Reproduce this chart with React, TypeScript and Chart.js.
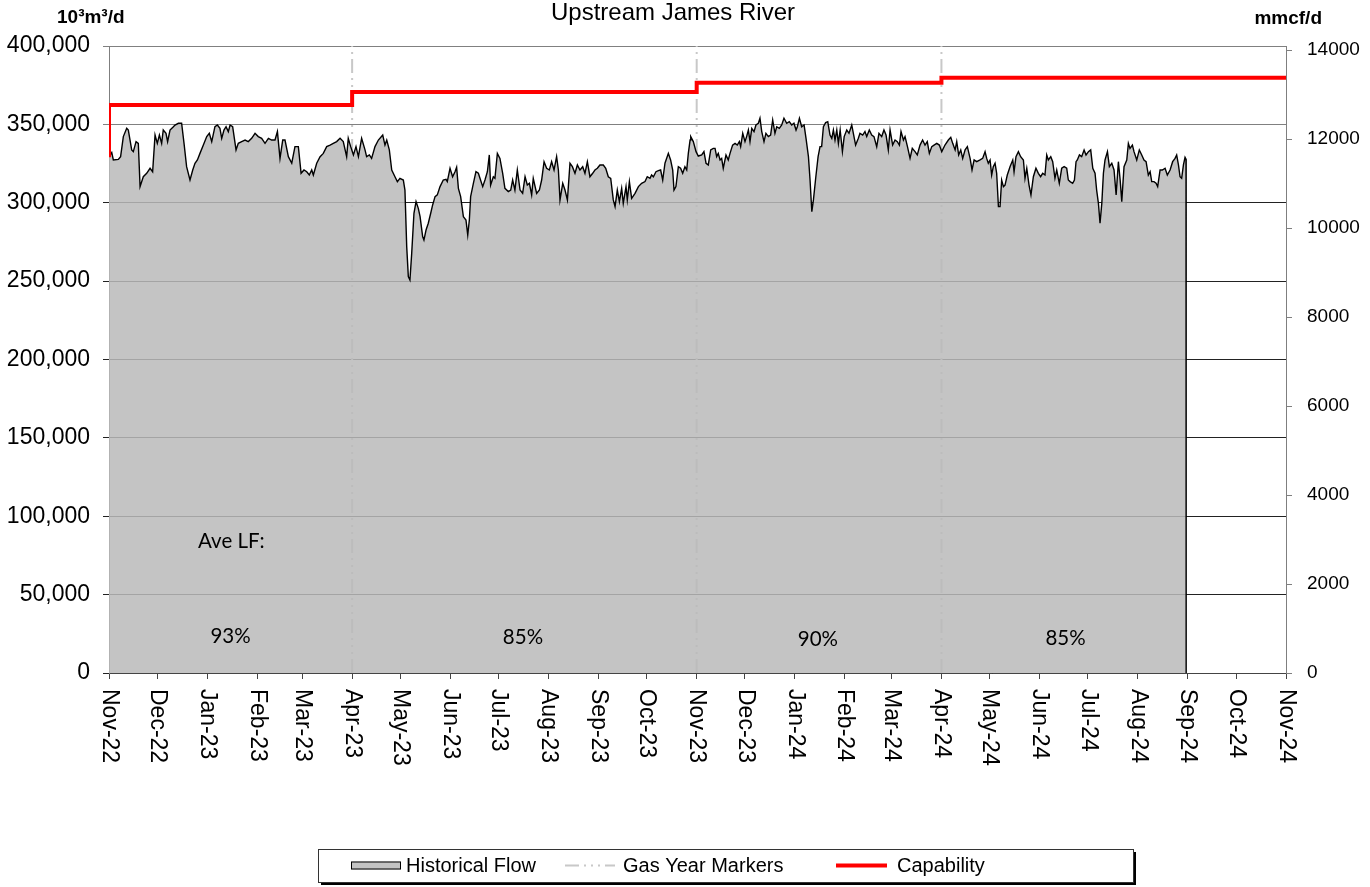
import { useEffect, useRef } from 'react';
import { Chart, registerables } from 'chart.js';

Chart.register(...registerables);

const SANS = "'Liberation Sans', Arial, sans-serif";
const NOTE_FONT = "Lato, 'Open Sans', sans-serif";

// ---- text ----
const chartTitle = 'Upstream James River';
const leftUnit = '10³m³/d';
const rightUnit = 'mmcf/d';
const legendLabels = ['Historical Flow', 'Gas Year Markers', 'Capability'];
const loadFactorHeader = 'Ave LF:';
const loadFactorLabels = ['93%', '85%', '90%', '85%'];

// ---- x axis: days since 1 Nov 2022 ----
const monthTickDays = [0, 30, 61, 92, 120, 151, 181, 212, 242, 273, 304, 334, 365, 395, 426, 457, 486, 517, 547, 578, 608, 639, 670, 700, 731];
const monthTickLabels = ['Nov-22', 'Dec-22', 'Jan-23', 'Feb-23', 'Mar-23', 'Apr-23', 'May-23', 'Jun-23', 'Jul-23', 'Aug-23', 'Sep-23', 'Oct-23', 'Nov-23', 'Dec-23', 'Jan-24', 'Feb-24', 'Mar-24', 'Apr-24', 'May-24', 'Jun-24', 'Jul-24', 'Aug-24', 'Sep-24', 'Oct-24', 'Nov-24'];

// ---- y axes ----
const leftMin = 0;
const leftMax = 400000;
const leftStep = 50000;
const rightTickValues = [0, 2000, 4000, 6000, 8000, 10000, 12000, 14000];
const rightAxisMax = 14090;

// ---- series ----
const gasYearMarkerDays = [151, 365, 517];
const capabilityDays = [0, 0, 151, 365, 517, 731];
const capabilityValues = [329000, 362400, 370700, 376600, 379800, 379800];

// [day, 10³m³/d]
const historicalFlow: [number, number][] = [
  [0, 329400], [1.7, 332000], [2.7, 327300], [5.8, 327700], [7.2, 329400], [8.9, 342200], [11.0, 347500], [12.0, 346400], [14.1, 333700], [15.1, 332600],
  [16.8, 339000], [18.2, 337900], [19.3, 310300], [21.3, 316600], [23.4, 318800], [25.5, 322000], [27.1, 319800], [28.6, 343200], [30.0, 337900], [31.3, 343200],
  [32.7, 337900], [33.7, 346400], [35.4, 344300], [36.4, 339000], [37.9, 346400], [40.0, 348500], [41.0, 349600], [43.1, 350700], [45.1, 350700], [46.6, 337900],
  [48.2, 323000], [50.3, 314500], [52.0, 320900], [53.4, 325200], [54.9, 327300], [56.5, 331500], [58.6, 336800], [60.7, 342200], [62.3, 344300], [63.8, 339000],
  [65.8, 348500], [67.3, 349600], [68.9, 347500], [70.0, 341100], [71.4, 346400], [72.7, 348500], [74.1, 345400], [75.2, 349600], [76.8, 348500], [78.9, 333700],
  [80.3, 337900], [82.4, 339000], [84.5, 340000], [86.5, 339000], [88.6, 341100], [90.7, 344300], [92.7, 342200], [94.8, 341100], [96.9, 337900], [99.0, 341100],
  [101.0, 340000], [103.1, 340000], [104.6, 345400], [106.2, 328300], [107.9, 340000], [109.3, 340000], [111.4, 329400], [113.5, 325200], [115.5, 335800], [117.6, 335800],
  [119.3, 318800], [121.1, 320900], [122.8, 319800], [124.4, 317700], [125.9, 320900], [126.9, 317700], [129.0, 325200], [131.1, 329400], [133.1, 331500], [135.2, 335800],
  [137.3, 336800], [139.3, 337900], [141.4, 339000], [143.5, 341100], [145.5, 339000], [147.6, 329400], [148.6, 341100], [150.1, 335800], [151.8, 330500], [153.4, 335800],
  [154.9, 329400], [156.9, 341100], [159.0, 333700], [160.0, 329400], [161.7, 330500], [163.1, 328300], [165.2, 335800], [167.3, 340000], [170.0, 343200], [171.4, 336800],
  [172.5, 340000], [174.1, 333700], [175.6, 320900], [177.6, 316600], [179.1, 313500], [180.7, 315600],
  [182.8, 314500], [183.8, 308100], [184.9, 272000], [185.9, 252900], [186.9, 250700], [188.0, 267700], [189.4, 293300], [190.7, 300700], [192.1, 296400], [193.2, 291100],
  [194.8, 278400], [195.6, 276200], [196.9, 282600], [198.3, 286900], [199.8, 293300], [201.0, 298600], [202.5, 303900], [203.9, 305000], [205.6, 310300], [207.6, 314500],
  [209.3, 314900], [210.1, 313500], [211.8, 322000], [213.4, 316600], [214.9, 319800], [215.9, 322600], [217.0, 309200], [218.4, 303900], [220.1, 291100], [221.7, 289000],
  [222.8, 279400], [223.8, 289000], [224.6, 303900], [226.3, 312400], [227.9, 319800], [229.4, 318800], [230.4, 315600], [232.1, 310300], [233.5, 314500], [235.0, 319800],
  [236.2, 330500], [237.0, 311300], [238.7, 316600], [239.7, 315600], [241.2, 331500], [242.8, 328300], [244.5, 318800], [245.9, 309200], [248.0, 307100], [249.5, 308100],
  [250.7, 314500], [252.1, 308100], [253.6, 320900], [255.3, 308100], [256.9, 306000], [258.4, 316600], [259.8, 311300], [261.1, 312400], [262.5, 305000], [263.5, 315600],
  [265.6, 306000], [267.3, 308100], [268.7, 314500], [270.2, 326200], [271.8, 322000], [273.5, 320900], [274.9, 326200], [276.4, 320900], [278.0, 329400], [279.1, 320900],
  [280.1, 301800], [281.8, 312400], [283.2, 308100], [284.7, 301800], [286.3, 325200], [287.8, 323000], [289.4, 318800], [290.9, 324100], [292.5, 320900], [294.2, 323000],
  [295.6, 318800], [297.1, 326200], [298.7, 316600], [300.4, 318800], [301.8, 320900], [303.3, 322000], [304.9, 324100], [307.0, 324100], [308.5, 322000], [310.1, 316600],
  [311.6, 315600], [313.2, 301800], [314.3, 297500], [315.7, 308100], [317.0, 300700], [318.4, 309200], [319.4, 299600], [321.1, 310300], [321.9, 301800], [323.2, 313500],
  [324.6, 302800], [326.7, 306000], [328.8, 310300], [330.8, 312400], [332.9, 313500], [334.3, 316600], [336.0, 315600], [337.0, 317700], [338.1, 316600], [339.7, 319800],
  [341.2, 320500], [342.6, 320900], [343.9, 314500], [345.3, 325200], [347.4, 331500], [348.8, 327300], [350.1, 320900], [350.9, 308100], [352.1, 310300], [353.6, 323000],
  [355.0, 322000], [356.3, 318800], [357.7, 323000], [358.8, 320900], [359.8, 331500], [360.9, 340000],
  [361.3, 342200], [362.9, 339000], [364.6, 332600], [366.0, 329800], [368.1, 330500], [369.5, 332600], [370.8, 325200], [372.2, 324100], [373.7, 333700], [375.3, 334700],
  [376.4, 334700], [377.4, 329400], [378.4, 331500], [379.5, 327300], [380.5, 328300], [381.5, 322000], [383.2, 330500], [384.6, 327300], [385.7, 331500], [387.3, 336800],
  [388.8, 337900], [390.2, 336800], [391.5, 339000], [392.3, 335800], [393.6, 344300], [395.0, 339000], [396.0, 342200], [397.1, 346400], [398.1, 339000], [399.2, 347500],
  [400.6, 345400], [401.8, 349600], [403.3, 350700], [404.3, 353900], [405.4, 345400], [406.8, 339000], [408.0, 344300], [409.5, 342200], [410.9, 343200], [412.2, 352800],
  [413.6, 344300], [414.7, 348500], [416.3, 347500], [417.8, 349600], [419.2, 353900], [420.9, 350700], [422.5, 351700], [424.0, 349600], [425.4, 350700], [426.7, 346400],
  [427.5, 348500], [428.8, 353900], [430.2, 348500], [431.7, 349600], [432.9, 341100], [434.4, 329400], [435.4, 314500], [436.5, 294300], [437.5, 301800], [439.0, 316600],
  [440.4, 329400], [441.6, 335800], [442.6, 335800], [443.7, 348500], [445.1, 351100], [446.4, 351700], [447.8, 343200], [448.9, 341100], [449.9, 346400], [450.9, 340000],
  [452.0, 346400], [453.0, 337900], [454.1, 346400], [455.5, 332600], [456.6, 342200], [458.2, 346400], [459.6, 344300], [461.3, 349600], [462.3, 344300], [463.7, 336800],
  [465.4, 341100], [466.4, 344300], [468.1, 343200], [469.5, 345400], [470.6, 342200], [472.2, 346400], [473.7, 343200], [475.1, 342200], [476.8, 335800], [478.2, 344300],
  [479.9, 342200], [481.3, 346400], [482.6, 343200], [484.0, 333700], [485.1, 346400], [486.7, 336800], [488.2, 340000], [489.6, 339000], [490.9, 336800], [491.9, 345400],
  [493.4, 340000], [494.4, 342200], [495.9, 335800], [497.5, 328300], [498.9, 334700], [500.6, 332600], [502.0, 330500], [503.7, 336800], [505.3, 340000], [506.8, 336800],
  [508.2, 339000], [509.5, 331500], [511.0, 335800], [512.4, 336800], [514.1, 337900], [515.7, 336800], [517.2, 332600], [519.2, 336800], [521.3, 340000], [522.8, 341700],
  [524.0, 337900], [525.5, 333700], [526.5, 339000], [527.7, 330500], [529.0, 333700], [530.2, 328300], [531.7, 333700], [533.1, 335800], [534.8, 328300], [536.0, 320900],
  [537.3, 327300], [538.9, 326200], [541.0, 327300],
  [542.6, 328300], [544.1, 332600], [545.1, 328300], [546.1, 325200], [547.2, 327300], [548.2, 317700], [549.2, 323000], [550.3, 325200], [551.3, 318800], [552.4, 297500],
  [553.4, 297500], [554.4, 314500], [555.5, 310300], [556.5, 311300], [557.9, 317700], [559.6, 323000], [561.3, 327300], [562.1, 319800], [563.3, 329400], [564.8, 332600],
  [566.2, 329400], [567.9, 327300], [568.9, 315600], [570.0, 322000], [571.4, 311300], [572.6, 305000], [574.1, 316600], [575.7, 322000], [577.2, 318800], [578.6, 316600],
  [579.9, 318800], [581.3, 317700], [582.4, 330500], [583.4, 327300], [584.9, 329400], [586.1, 326200], [587.5, 315600], [588.6, 320900], [590.2, 312400], [591.7, 322000],
  [593.2, 323000], [594.8, 322000], [595.8, 314500], [596.9, 313500], [598.5, 312400], [599.6, 314500], [600.6, 326200], [601.4, 327300], [602.7, 330500], [604.1, 329400],
  [605.6, 333700], [606.8, 330500], [608.3, 332600], [609.7, 333700], [611.0, 322000], [612.4, 318800], [613.4, 308100], [614.5, 299600], [615.5, 286900], [616.6, 299600],
  [617.6, 318800], [618.6, 327300], [620.1, 332600], [621.3, 323000], [622.8, 325200], [624.2, 320900], [625.5, 305000], [626.9, 326200], [628.0, 314500], [629.0, 300700],
  [630.4, 323000], [632.1, 327300], [633.1, 337900], [634.1, 334700], [635.6, 336800], [636.6, 332600], [638.3, 327300], [639.9, 333700], [641.4, 330500], [642.8, 327300],
  [644.1, 326200], [645.5, 317700], [646.6, 319800], [647.6, 313500], [649.0, 313500], [650.3, 312400], [651.3, 310300], [652.8, 320900], [654.2, 320900], [655.9, 322000],
  [657.3, 317700], [659.0, 320900], [660.6, 326200], [662.1, 328300], [663.1, 330500], [664.2, 324100], [665.2, 316600], [666.2, 315600], [667.3, 324100], [668.3, 329000],
  [668.9, 327800], [669, 0],
];

// ---- annotation anchors (day, value) ----
const headerAnchor = { day: 55.3, value: 79700 };
const percentAnchorDays = [75.5, 257.1, 440.3, 594.1];
const percentAnchorValues = [19100, 18500, 17200, 17900];

const MARKER_DASH = [14, 5, 2, 5, 2, 5, 2, 5];

const overlayPlugin = {
  id: 'overlayText',
  afterDraw(chart: any) {
    const { ctx, scales } = chart;
    const xs = scales.x;
    const ys = scales.y;
    ctx.save();
    ctx.fillStyle = '#000';

    // title
    ctx.font = `24px ${SANS}`;
    ctx.textAlign = 'center';
    ctx.textBaseline = 'alphabetic';
    ctx.fillText(chartTitle, 673, 20);

    // units
    ctx.font = `bold 19px ${SANS}`;
    ctx.textAlign = 'left';
    ctx.fillText(leftUnit, 57, 23);
    ctx.textAlign = 'right';
    ctx.fillText(rightUnit, 1322, 24);

    // rotated month labels
    ctx.font = `23px ${SANS}`;
    monthTickDays.forEach((d, i) => {
      const px = xs.getPixelForValue(d);
      ctx.save();
      ctx.translate(px, ys.bottom + 16);
      ctx.rotate(Math.PI / 2);
      ctx.textAlign = 'left';
      ctx.textBaseline = 'middle';
      ctx.fillText(monthTickLabels[i], 0, 0);
      ctx.restore();
    });

    // load factor notes
    ctx.font = `20.5px ${NOTE_FONT}`;
    ctx.textBaseline = 'alphabetic';
    ctx.textAlign = 'left';
    ctx.fillText(loadFactorHeader, xs.getPixelForValue(headerAnchor.day), ys.getPixelForValue(headerAnchor.value));
    ctx.textAlign = 'center';
    loadFactorLabels.forEach((t, i) => {
      ctx.fillText(t, xs.getPixelForValue(percentAnchorDays[i]), ys.getPixelForValue(percentAnchorValues[i]));
    });

    // legend
    const lx = 318, ly = 849, lw = 815, lh = 33;
    ctx.fillStyle = '#000';
    ctx.fillRect(lx + 3, ly + 3, lw, lh);
    ctx.fillStyle = '#fff';
    ctx.fillRect(lx, ly, lw, lh);
    ctx.strokeStyle = '#333';
    ctx.lineWidth = 1;
    ctx.strokeRect(lx + 0.5, ly + 0.5, lw, lh);

    const cy = ly + 16.5;
    ctx.fillStyle = '#c4c4c4';
    ctx.fillRect(351, cy - 4, 50, 8);
    ctx.strokeStyle = '#000';
    ctx.strokeRect(351.5, cy - 3.5, 49, 7);
    ctx.save();
    ctx.strokeStyle = '#c8c8c8';
    ctx.lineWidth = 2;
    ctx.setLineDash(MARKER_DASH);
    ctx.beginPath();
    ctx.moveTo(565, cy);
    ctx.lineTo(615, cy);
    ctx.stroke();
    ctx.restore();
    ctx.strokeStyle = '#ff0000';
    ctx.lineWidth = 4;
    ctx.beginPath();
    ctx.moveTo(836, cy);
    ctx.lineTo(887, cy);
    ctx.stroke();

    ctx.fillStyle = '#000';
    ctx.font = `20px ${SANS}`;
    ctx.textAlign = 'left';
    ctx.textBaseline = 'middle';
    ctx.fillText(legendLabels[0], 406, cy + 1);
    ctx.fillText(legendLabels[1], 623, cy + 1);
    ctx.fillText(legendLabels[2], 897, cy + 1);

    ctx.restore();
  },
};

export default function App() {
  const ref = useRef<HTMLCanvasElement>(null);

  useEffect(() => {
    const canvas = ref.current;
    if (!canvas) return;

    const markerData: { x: number; y: number | null }[] = [];
    gasYearMarkerDays.forEach((d) => {
      markerData.push({ x: d, y: leftMin }, { x: d, y: leftMax }, { x: d, y: null });
    });

    const chart = new Chart(canvas, {
      type: 'line',
      data: {
        datasets: [
          {
            label: legendLabels[2],
            data: capabilityDays.map((d, i) => ({ x: d, y: capabilityValues[i] })),
            borderColor: '#ff0000',
            borderWidth: 4,
            stepped: true,
            fill: false,
            pointRadius: 0,
            order: 1,
            yAxisID: 'y',
          },
          {
            label: legendLabels[0],
            data: historicalFlow.map(([d, v]) => ({ x: d, y: v })),
            borderColor: '#000000',
            borderWidth: 1.4,
            backgroundColor: 'rgba(186,186,186,0.86)',
            fill: 'origin',
            pointRadius: 0,
            tension: 0,
            order: 2,
            yAxisID: 'y',
          },
          {
            label: legendLabels[1],
            data: markerData as any,
            borderColor: '#c8c8c8',
            borderWidth: 2,
            borderDash: MARKER_DASH,
            fill: false,
            pointRadius: 0,
            spanGaps: false,
            order: 3,
            yAxisID: 'y',
          },
        ],
      },
      options: {
        responsive: false,
        animation: false,
        events: [],
        layout: { padding: { top: 46, left: 0, right: 0, bottom: 0 } },
        plugins: {
          legend: { display: false },
          title: { display: false },
          tooltip: { enabled: false },
        },
        scales: {
          x: {
            type: 'linear',
            min: monthTickDays[0],
            max: monthTickDays[monthTickDays.length - 1],
            position: 'bottom',
            afterBuildTicks: (scale: any) => {
              scale.ticks = monthTickDays.map((v) => ({ value: v }));
            },
            afterFit: (scale: any) => {
              scale.height = 214;
            },
            ticks: { display: false },
            grid: { drawOnChartArea: false, drawTicks: true, tickLength: 6, color: '#444444' },
            border: { display: true, color: '#444444' },
          },
          y: {
            type: 'linear',
            position: 'left',
            min: leftMin,
            max: leftMax,
            afterFit: (scale: any) => {
              scale.width = 109;
            },
            ticks: {
              stepSize: leftStep,
              color: '#000',
              padding: 13,
              font: { family: SANS, size: 23 },
              callback: (v: any) => Number(v).toLocaleString('en-US'),
            },
            grid: {
              color: (c: any) => (c.tick && c.tick.value >= 350000 ? '#808080' : '#222222'),
              tickLength: 6,
              drawTicks: true,
            },
            border: { display: true, color: '#7f7f7f' },
          },
          y2: {
            type: 'linear',
            position: 'right',
            min: 0,
            max: rightAxisMax,
            afterBuildTicks: (scale: any) => {
              scale.ticks = rightTickValues.map((v) => ({ value: v }));
            },
            afterFit: (scale: any) => {
              scale.width = 84;
            },
            ticks: {
              color: '#000',
              padding: 15,
              font: { family: SANS, size: 19 },
              callback: (v: any) => String(v),
            },
            grid: { drawOnChartArea: false, tickLength: 6, color: '#7f7f7f' },
            border: { display: true, color: '#7f7f7f' },
          },
        },
      },
      plugins: [overlayPlugin],
    } as any);

    return () => chart.destroy();
  }, []);

  return (
    <div style={{ position: 'absolute', left: 0, top: 0, width: 1370, height: 887, background: '#fff' }}>
      <canvas ref={ref} width={1370} height={887} style={{ display: 'block' }} />
    </div>
  );
}
